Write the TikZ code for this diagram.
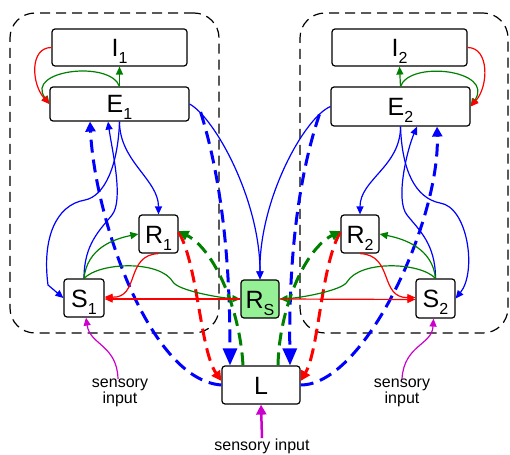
\documentclass[tikz,border=0pt]{standalone}
\usepackage{fontspec}
\setmainfont{Liberation Sans}
\usetikzlibrary{arrows.meta}
\definecolor{gr}{RGB}{0,128,0}
\definecolor{mg}{RGB}{204,0,204}
\definecolor{rsfill}{RGB}{150,240,150}
\newcommand\boxlab[2]{#1\raisebox{-7pt}{\fontsize{16}{16}\selectfont #2}}
\begin{document}
\begin{tikzpicture}[x=1pt,y=-1pt,
  box/.style={draw,fill=white,line width=1.2pt,rounded corners=3pt,inner sep=0pt,font=\fontsize{25}{25}\selectfont,text height=18pt,text depth=0pt},
  cont/.style={draw,line width=1.2pt,dash pattern=on 10pt off 6pt,rounded corners=25pt,inner sep=0pt},
  ln/.style={line width=1.2pt},
  arr/.style={-{Triangle[length=8pt,width=7pt]}},
  midarr/.style={-{Triangle[length=10pt,width=10pt]}},
  bigarr/.style={-{Triangle[length=17pt,width=14pt]}},
  bigdash/.style={line width=3pt,dash pattern=on 13pt off 7pt},
  lbl/.style={inner sep=0pt,font=\fontsize{16}{16}\selectfont}
]
\useasboundingbox (0,0) rectangle (510,454);
% containers
\node[cont,minimum width=209pt,minimum height=320pt] (C1) at (114.5,173) {};
\node[cont,minimum width=208pt,minimum height=320pt] (C2) at (404,173) {};
% boxes
\node[box,minimum width=135pt,minimum height=37pt] (I1) at (119.5,47.5) {\boxlab{I}{1}};
\node[box,minimum width=139pt,minimum height=34pt] (E1) at (119.5,104) {\boxlab{E}{1}};
\node[box,minimum width=135pt,minimum height=37pt] (I2) at (399.5,47.5) {\boxlab{I}{2}};
\node[box,minimum width=139pt,minimum height=39pt] (E2) at (400.5,106.5) {\boxlab{E}{2}};
\node[box,minimum width=39pt,minimum height=38pt] (R1) at (158.5,234) {\boxlab{R}{1}};
\node[box,minimum width=40pt,minimum height=38pt] (S1) at (84,298) {\boxlab{S}{1}};
\node[box,minimum width=38pt,minimum height=38pt,fill=rsfill] (Rs) at (260,299) {\boxlab{R}{S}};
\node[box,minimum width=38pt,minimum height=38pt] (R2) at (360,234) {\boxlab{R}{2}};
\node[box,minimum width=39pt,minimum height=39pt] (S2) at (435.5,298.5) {\boxlab{S}{2}};
\node[box,minimum width=78pt,minimum height=38pt] (L) at (261,385) {L};
% labels
\node[lbl,align=center] (sl) at (120,393) {sensory\\input};
\node[lbl,align=center] (sr) at (402,393) {sensory\\input};
\node[lbl,anchor=base] (sb) at (262,450) {sensory input};

% ---------- left ----------
\draw[ln,gr,arr] (E1.north) .. controls (110,60) and (25,70) .. (E1.west);
\draw[ln,red,arr] (I1.west) .. controls +(-22,0) and +(-18,-20) .. (E1.west);
\draw[ln,gr,arr] (E1.north) -- (I1.south);
\draw[ln,blue,arr] (E1.east) .. controls (215,118) and (260,200) .. (Rs.north);
\draw[bigdash,blue,bigarr] ([shift={(11,8)}]E1.east) .. controls (225,190) and (230,280) .. ([xshift=-31pt]L.north);
\draw[bigdash,blue,midarr] (L.west) .. controls (150,380) and (95,220) .. ([xshift=-29.5pt]E1.south);
\draw[bigdash,red,midarr] ([yshift=2pt]R1.east) .. controls (198,265) and (200,350) .. ([yshift=4pt]L.west);
\draw[bigdash,gr,midarr] ([xshift=-18pt]L.north) .. controls (240,310) and (215,250) .. ([yshift=3pt]R1.east);
\draw[ln,blue,arr] (E1.south) .. controls (118,165) and (105,196) .. (85,200) .. controls (55,205) and (42,240) .. (48,285) -- (S1.west);
\draw[ln,blue,arr] (S1.north) .. controls (84,244) and (100,230) .. (112,215) .. controls (124,200) and (112,150) .. ([xshift=-11.5pt]E1.south);
\draw[ln,blue,arr] (E1.south) .. controls +(0,40) and +(0,-35) .. (R1.north);
\draw[ln,gr,arr] (S1.north) .. controls +(3,-30) and +(-25,5) .. (R1.west);
\draw[ln,gr,arr] (S1.north) .. controls (100,262) and (160,260) .. (173,282) .. controls (178,290.5) and (220,298) .. (Rs.west);
\draw[ln,red,arr] (R1.south) .. controls (125,255) and (140,298) .. ([yshift=1pt]S1.east);
\draw[ln,red,arr] (Rs.west) -- ([yshift=-1pt]S1.east);
\draw[ln,mg,arr] ([xshift=-2pt]sl.north) .. controls (117,345) and (90,345) .. ([xshift=2pt]S1.south);

% ---------- right ----------
\draw[ln,gr,arr] (E2.north) .. controls (410,60) and (495,70) .. (E2.east);
\draw[ln,red,arr] (I2.east) .. controls +(22,0) and +(18,-20) .. (E2.east);
\draw[ln,gr,arr] (E2.north) -- (I2.south);
\draw[ln,blue,arr] (E2.west) .. controls (304,118) and (259,200) .. (Rs.north);
\draw[bigdash,blue,bigarr] ([shift={(-11,8)}]E2.west) .. controls (294,190) and (289,280) .. ([xshift=29pt]L.north);
\draw[bigdash,blue,midarr] (L.east) .. controls (365,385) and (440,220) .. ([xshift=36.5pt]E2.south);
\draw[bigdash,red,midarr] ([yshift=2pt]R2.west) .. controls (321,265) and (319,350) .. ([yshift=4pt]L.east);
\draw[bigdash,gr,midarr] ([xshift=17pt]L.north) .. controls (279,310) and (304,250) .. ([yshift=3pt]R2.west);
\draw[ln,blue,arr] (E2.south) .. controls +(0,40) and +(0,-35) .. (R2.north);
\draw[ln,blue,arr] (E2.south) .. controls (402,170) and (415,198) .. (440,203) .. controls (468,207) and (477,272) .. (S2.east);
\draw[ln,blue,arr] (S2.north) .. controls (435.5,244) and (419,230) .. (407,215) .. controls (395,200) and (407,150) .. ([xshift=16.5pt]E2.south);
\draw[ln,gr,arr] (S2.north) .. controls +(-3,-30) and +(25,5) .. (R2.east);
\draw[ln,gr,arr] (S2.north) .. controls (420,262) and (360,260) .. (347,282) .. controls (342,290.5) and (300,298) .. (Rs.east);
\draw[ln,red,arr] (R2.south) .. controls (394,255) and (379,298) .. ([yshift=1pt]S2.west);
\draw[ln,red,arr] (Rs.east) -- ([yshift=-1pt]S2.west);
\draw[ln,mg,arr] (sr.north) .. controls (404,345) and (432,345) .. ([xshift=-2pt]S2.south);

% bottom
\draw[line width=2.5pt,mg,-{Triangle[length=10pt,width=10pt]}] (sb.north) -- (L.south);
\end{tikzpicture}
\end{document}
